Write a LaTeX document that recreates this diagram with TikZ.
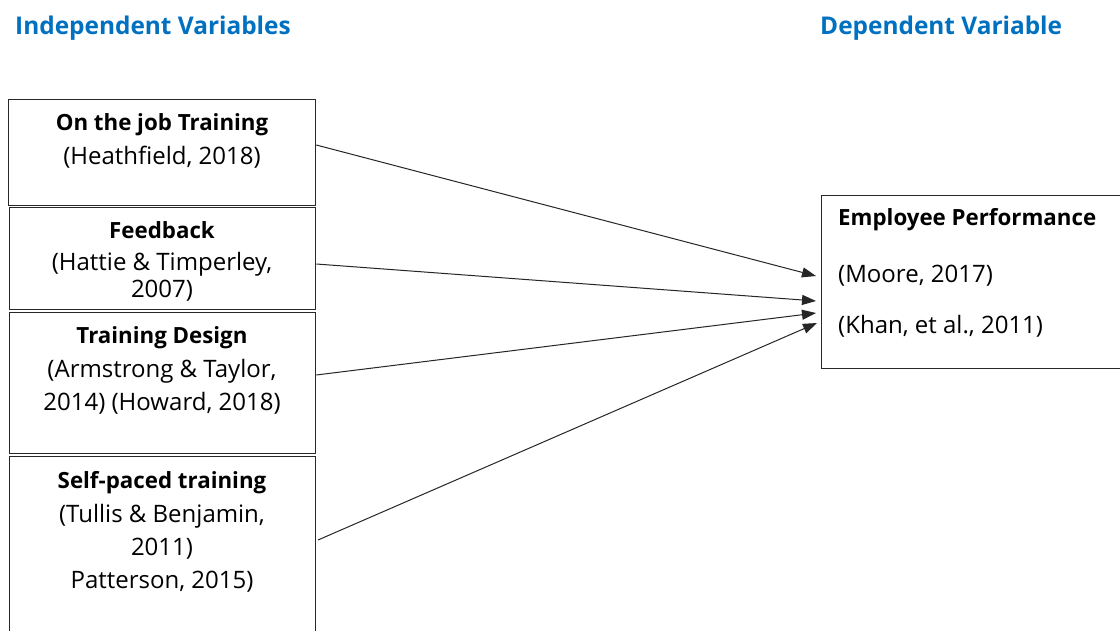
\documentclass[tikz,border=0pt]{standalone}
\usepackage{fontspec}
\setmainfont{Open Sans}
\usetikzlibrary{arrows.meta}
\definecolor{titleblue}{RGB}{0,112,192}
\definecolor{boxline}{RGB}{40,40,40}
\newcommand{\hd}{\fontsize{22.3}{26}\selectfont\bfseries}
\begin{document}
\begin{tikzpicture}[x=1pt,y=-1pt,
  box/.style={draw=boxline, line width=1.3pt, anchor=north west, inner sep=0pt},
  txt/.style={anchor=base, inner sep=0pt, font=\fontsize{24}{28}\selectfont},
  ltxt/.style={anchor=base west, inner sep=0pt, font=\fontsize{24}{28}\selectfont},
  ttl/.style={anchor=base west, inner sep=0pt, text=titleblue, font=\fontsize{24.4}{28}\selectfont\bfseries},
  conn/.style={draw=black!85, line width=1pt, -{Triangle[length=14pt,width=10pt]}}]
\useasboundingbox (0,0) rectangle (1120,630);
\clip (0,0) rectangle (1120,630);
\fill[white] (0,0) rectangle (1120,630);
% titles
\node[ttl] (t1) at (15,34) {Independent Variables};
\node[ttl] (t2) at (820,34) {Dependent Variable};
% boxes
\node[box, minimum width=307pt, minimum height=106pt] (b1) at (8,99) {};
\node[box, minimum width=306pt, minimum height=102pt] (b2) at (9,207) {};
\node[box, minimum width=306pt, minimum height=141pt] (b3) at (9,312) {};
\node[box, minimum width=306pt, minimum height=190pt] (b4) at (9,456) {};
\node[box, minimum width=320pt, minimum height=173pt] (r) at (821,195) {};
% texts
\node[txt] (b1a) at (162,130) {\hd On the job Training};
\node[txt] (b1b) at (162,164) {(Heathfield, 2018)};
\node[txt] (b2a) at (162,238) {\hd Feedback};
\node[txt] (b2b) at (162,270) {(Hattie \& Timperley,};
\node[txt] (b2c) at (162,297) {2007)};
\node[txt] (b3a) at (162,343) {\hd Training Design};
\node[txt] (b3b) at (162,377) {(Armstrong \& Taylor,};
\node[txt] (b3c) at (162,410) {2014) (Howard, 2018)};
\node[txt] (b4a) at (162,488) {\hd Self-paced training};
\node[txt] (b4b) at (162,522) {(Tullis \& Benjamin,};
\node[txt] (b4c) at (162,555) {2011)};
\node[txt] (b4d) at (162,588) {Patterson, 2015)};
\node[ltxt] (ra) at (838,225) {\hd Employee Performance};
\node[ltxt] (rb) at (838,282) {(Moore, 2017)};
\node[ltxt] (rc) at (838,333) {(Khan, et al., 2011)};
% connector end points
\coordinate (e1) at (816,276);
\coordinate (e2) at (816,301);
\coordinate (e3) at (816,313);
\coordinate (e4) at (817,323);
\coordinate (s4) at (318,540);
\draw[conn] (b1.east |- 0,145) -- (e1);
\draw[conn] (b2.east |- 0,264) -- (e2);
\draw[conn] (b3.east |- 0,375) -- (e3);
\draw[conn] (s4) -- (e4);
\end{tikzpicture}
\end{document}
